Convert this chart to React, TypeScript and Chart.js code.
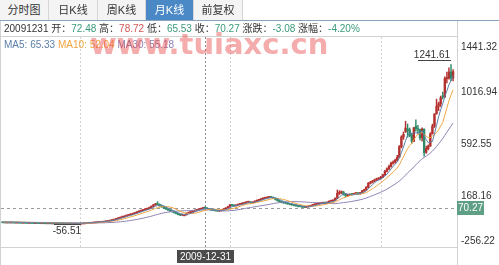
import React, { useEffect, useRef } from "react";
import { Chart, registerables } from "chart.js";
Chart.register(...registerables);

// Monthly K-line, 2001-10 .. 2019-12 (pre-adjusted prices)
const startYear = 2001;
const startMonth = 10;

const opens = [
  -43, -44, -45, -45, -46, -45, -46, -47, -46, -47, -48, -47,
  -48, -49, -48, -49, -50, -49, -50, -51, -50, -51, -52, -51,
  -52, -52, -53, -52, -53, -54, -53, -54, -55, -54, -55, -55,
  -54, -55, -55, -54, -52, -51, -49, -48, -47, -45, -44, -42,
  -41, -40, -38, -35, -33, -29, -25, -21, -16, -10, -5, 0,
  5, 10, 15, 20, 25, 31, 38, 44, 50, 55, 60, 66,
  74, 84, 95, 106, 100, 88, 80, 70, 62, 54, 46, 40,
  32, 24, 16, 12, 14, 14, 28, 33, 38, 44, 50.75, 56,
  61, 66, 72.48, 70, 62, 57, 53, 50, 47, 45, 48, 55,
  63, 70, 80, 96, 92, 88, 94, 100, 104, 108, 114, 118,
  120, 112, 118, 126, 132, 138, 144, 150, 152, 156, 162, 156,
  150, 140, 130, 122, 116, 112, 108, 104, 100, 96, 92, 88,
  84, 82, 78, 76, 80, 84, 90, 96, 100, 104, 108, 110,
  112, 110, 118, 126, 128, 132, 150, 190, 196, 200, 182, 170,
  174, 182, 180, 188, 192, 186, 196, 210, 218, 240, 272, 280,
  290, 300, 308, 312, 322, 340, 370, 390, 410, 436, 445, 460,
  485, 570, 650, 692, 716, 708, 664, 614, 738, 715, 710, 643,
  715, 525, 555, 575, 675, 737, 840, 901, 921, 985, 977, 1127,
  1130, 1180, 1131,
];

const highs = [
  -42, -43, -44, -44, -44, -44, -45, -45, -45, -46, -46, -46,
  -47, -47, -47, -48, -48, -48, -49, -49, -49, -50, -50, -50,
  -51, -51, -51, -51, -52, -52, -52, -53, -53, -53, -54, -53,
  -53, -54, -53, -51, -50, -48, -47, -46, -44, -43, -41, -40,
  -39, -37, -34, -32, -28, -24, -20, -15, -8, -3, 2, 7,
  12, 17, 22, 27, 33, 40, 47, 53, 58, 63, 69, 77,
  88, 100, 108, 122, 104, 94, 84, 74, 66, 58, 50, 43,
  34, 27, 18, 16, 17, 30, 36, 41, 47, 54, 59, 64,
  68, 75, 78.72, 74, 65, 60, 56, 53, 50, 50, 57, 65,
  72, 83, 101, 99, 94, 96, 102, 107, 111, 117, 121, 124,
  122, 120, 129, 135, 141, 147, 153, 156, 159, 166, 165, 159,
  153, 143, 133, 125, 119, 115, 111, 107, 103, 99, 95, 91,
  87, 85, 81, 83, 87, 93, 99, 103, 107, 111, 113, 115,
  115, 121, 129, 131, 136, 154, 217, 212, 210, 206, 190, 180,
  186, 188, 191, 196, 196, 199, 214, 224, 246, 278, 288, 296,
  306, 314, 318, 328, 346, 378, 398, 420, 446, 456, 470, 500,
  580, 660, 690, 778, 756, 723, 682, 729, 790, 745, 715, 725,
  715, 575, 585, 685, 755, 839, 959, 935, 984, 1016, 1140, 1180,
  1215, 1241.61, 1200,
];

const lows = [
  -45, -46, -46, -47, -47, -47, -48, -48, -48, -49, -49, -49,
  -50, -50, -50, -51, -51, -51, -52, -52, -52, -53, -53, -53,
  -53, -54, -54, -54, -55, -55, -55, -56, -56, -56, -56, -56,
  -56, -56, -56.51, -55, -53, -52, -50, -49, -48, -46, -45, -43,
  -42, -41, -39, -36, -34, -30, -26, -22, -17, -11, -6, -1,
  3, 8, 13, 18, 23, 29, 36, 42, 48, 52, 57, 63,
  71, 80, 92, 96, 84, 76, 66, 58, 50, 42, 36, 28,
  21, 13, 8, 10, 11, 13, 26, 31, 36, 42, 49, 54,
  59, 64, 65.53, 60, 55, 51, 48, 45, 42, 43, 46, 53,
  61, 68, 78, 88, 85, 86, 92, 98, 101, 106, 111, 115,
  108, 110, 115, 123, 130, 136, 141, 146, 149, 153, 153, 147,
  136, 126, 118, 112, 108, 104, 100, 96, 92, 88, 84, 80,
  79, 75, 72, 73, 78, 82, 88, 94, 98, 102, 105, 107,
  106, 107, 115, 123, 125, 130, 148, 180, 186, 175, 160, 164,
  170, 176, 178, 184, 180, 184, 194, 206, 214, 236, 266, 274,
  284, 294, 300, 306, 318, 336, 364, 384, 404, 428, 436, 452,
  480, 560, 630, 687, 648, 651, 597, 612, 697, 674, 625, 615,
  494, 515, 545, 575, 675, 727, 835, 865, 899, 960, 970, 1092,
  1121, 1110, 1107,
];

const closes = [
  -44, -45, -45, -46, -45, -46, -47, -46, -47, -48, -47, -48,
  -49, -48, -49, -50, -49, -50, -51, -50, -51, -52, -51, -52,
  -52, -53, -52, -53, -54, -53, -54, -55, -54, -55, -55, -54,
  -55, -55, -54, -52, -51, -49, -48, -47, -45, -44, -42, -41,
  -40, -38, -35, -33, -29, -25, -21, -16, -10, -5, 0, 5,
  10, 15, 20, 25, 31, 38, 44, 50, 55, 60, 66, 74,
  84, 95, 104, 100, 88, 80, 70, 62, 54, 46, 40, 32,
  24, 16, 12, 14, 14, 28, 33, 38, 44, 50.75, 56, 61,
  66.03, 73.35, 70.27, 62, 57, 53, 50, 47, 45, 48, 55, 63,
  70, 80, 96, 92, 88, 94, 100, 104, 108, 114, 118, 120,
  112, 118, 126, 132, 138, 144, 150, 152, 156, 162, 156, 150,
  140, 130, 122, 116, 112, 108, 104, 100, 96, 92, 88, 84,
  82, 78, 76, 80, 84, 90, 96, 100, 104, 108, 110, 112,
  110, 118, 126, 128, 132, 150, 190, 196, 200, 182, 170, 174,
  182, 180, 188, 192, 186, 196, 210, 218, 240, 272, 280, 290,
  300, 308, 312, 322, 340, 370, 390, 410, 436, 445, 460, 485,
  570, 650, 671, 722, 701, 658, 614, 725, 718, 709, 643, 715,
  522, 556, 575, 674, 737, 838, 901, 921, 970, 977, 1127, 1130,
  1180, 1131, 1183,
];

const yTicks = [1441.32, 1016.94, 592.55, 168.16, -256.22];
const tabLabels = ["分时图", "日K线", "周K线", "月K线", "前复权"];
const tabWidths = [49, 49, 48, 48, 49];
const activeTab = 3;
const crossIndex = 98;
const crossDateLabel = "2009-12-31";
const crossDateCode = "20091231";
const maPeriods = [5, 10, 30];
const maColors = ["#5b7fa8", "#f0a540", "#8d80b2"];
const upColor = "#b3302e";
const downColor = "#2e8a68";
const gridXs = [80, 230, 381];
const watermark = "www.tuiaxc.cn";

const FONT = "'Liberation Sans', Arial, 'Noto Sans CJK SC', sans-serif";
const RED = "#d05656";
const GREEN = "#3a9a78";

function movingAverage(values: number[], n: number): number[] {
  return values.map((_, i) => {
    const s = Math.max(0, i - n + 1);
    let sum = 0;
    for (let k = s; k <= i; k++) sum += values[k];
    return sum / (i - s + 1);
  });
}

const maSeries = maPeriods.map((p) => movingAverage(closes, p));

function monthLabel(i: number) {
  const m0 = startMonth - 1 + i;
  const y = startYear + Math.floor(m0 / 12);
  const m = (m0 % 12) + 1;
  return `${y}-${m < 10 ? "0" + m : m}`;
}

const overlayPlugin = {
  id: "overlay",
  beforeDatasetsDraw(chart: any) {
    const { ctx } = chart;
    const xs = chart.scales.x;
    const ys = chart.scales.y;
    ctx.save();
    ctx.lineWidth = 1;
    ctx.strokeStyle = "#d4d4d4";
    ctx.setLineDash([2, 2]);
    for (const gx of gridXs) {
      ctx.beginPath();
      ctx.moveTo(gx + 0.5, 37);
      ctx.lineTo(gx + 0.5, 247);
      ctx.stroke();
    }
    const cx = Math.round(xs.getPixelForValue(crossIndex)) + 0.5;
    ctx.strokeStyle = "#8c8c8c";
    ctx.beginPath();
    ctx.moveTo(cx, 37);
    ctx.lineTo(cx, 250);
    ctx.stroke();
    const cy = Math.round(ys.getPixelForValue(closes[crossIndex])) + 0.5;
    ctx.setLineDash([3, 3]);
    ctx.strokeStyle = "#9a9a9a";
    ctx.beginPath();
    ctx.moveTo(1, cy);
    ctx.lineTo(457, cy);
    ctx.stroke();
    ctx.restore();
  },
  afterDraw(chart: any) {
    const { ctx } = chart;
    const xs = chart.scales.x;
    const ys = chart.scales.y;
    ctx.save();
    ctx.setLineDash([]);
    ctx.lineWidth = 1;
    // frame
    ctx.strokeStyle = "#d2d2d2";
    const seg = (x1: number, y1: number, x2: number, y2: number) => {
      ctx.beginPath();
      ctx.moveTo(x1, y1);
      ctx.lineTo(x2, y2);
      ctx.stroke();
    };
    seg(0, 36.5, 457, 36.5);
    seg(0, 247.5, 457, 247.5);
    seg(457.5, 21, 457.5, 265);
    seg(0.5, 21, 0.5, 265);
    ctx.strokeStyle = "#8aa3bf";
    seg(0, 20.5, 499, 20.5);

    // y labels
    ctx.font = `10px ${FONT}`;
    ctx.fillStyle = "#333";
    ctx.textAlign = "left";
    yTicks.forEach((v, k) => {
      const p = ys.getPixelForValue(v);
      if (k === 0) {
        ctx.textBaseline = "top";
        ctx.fillText(v.toFixed(2), 461, p + 2);
      } else if (k === yTicks.length - 1) {
        ctx.textBaseline = "bottom";
        ctx.fillText(v.toFixed(2), 461, p - 2);
      } else {
        ctx.textBaseline = "middle";
        ctx.fillText(v.toFixed(2), 461, p);
      }
    });

    // current price box
    const cy = Math.round(ys.getPixelForValue(closes[crossIndex]));
    ctx.fillStyle = "#5f9f85";
    ctx.fillRect(457, cy - 7, 27, 14);
    ctx.fillStyle = "#fff";
    ctx.textAlign = "center";
    ctx.textBaseline = "middle";
    ctx.fillText(closes[crossIndex].toFixed(2), 470.5, cy + 0.5);

    // date box
    const cx = Math.round(xs.getPixelForValue(crossIndex));
    ctx.fillStyle = "#4b4b4b";
    ctx.fillRect(cx - 28, 250, 57, 13);
    ctx.fillStyle = "#fff";
    ctx.fillText(crossDateLabel, cx + 0.5, 256.8);

    // max / min annotations
    let iMax = 0;
    let iMin = 0;
    highs.forEach((h, i) => {
      if (h > highs[iMax]) iMax = i;
    });
    lows.forEach((l, i) => {
      if (l < lows[iMin]) iMin = i;
    });
    ctx.strokeStyle = "#444";
    ctx.fillStyle = "#333";
    const mx = Math.round(xs.getPixelForValue(iMax));
    const my = Math.round(ys.getPixelForValue(highs[iMax])) - 4;
    seg(mx - 33, my + 0.5, mx, my + 0.5);
    ctx.textAlign = "right";
    ctx.textBaseline = "alphabetic";
    ctx.fillText(highs[iMax].toFixed(2), mx - 1, my - 2);

    const nx = Math.round(xs.getPixelForValue(iMin));
    const ny = Math.round(ys.getPixelForValue(lows[iMin]));
    seg(nx - 27, ny + 0.5, nx, ny + 0.5);
    ctx.textBaseline = "top";
    ctx.fillText(lows[iMin].toFixed(2), nx, ny + 2);
    ctx.restore();
  },
};

export default function App() {
  const ref = useRef<HTMLCanvasElement>(null);

  useEffect(() => {
    if (!ref.current) return;
    const idx = closes.map((_, i) => i);
    const colors = idx.map((i) => (closes[i] >= opens[i] ? upColor : downColor));
    const chart = new Chart(ref.current, {
      type: "bar",
      data: {
        labels: idx.map(monthLabel),
        datasets: [
          ...maSeries.map((s, k) => ({
            type: "line" as const,
            label: `MA${maPeriods[k]}`,
            data: idx.map((i) => ({ x: i, y: s[i] })),
            borderColor: maColors[k],
            borderWidth: 1,
            pointRadius: 0,
            tension: 0,
            order: k + 1,
          })),
          {
            type: "bar" as const,
            label: "body",
            data: idx.map((i) => ({ x: i, y: [opens[i], closes[i]] })),
            backgroundColor: colors,
            barThickness: 1.7,
            minBarLength: 1,
            grouped: false,
            order: 8,
          },
          {
            type: "bar" as const,
            label: "wick",
            data: idx.map((i) => ({ x: i, y: [lows[i], highs[i]] })),
            backgroundColor: colors,
            barThickness: 0.8,
            grouped: false,
            order: 9,
          },
        ] as any,
      },
      options: {
        responsive: false,
        animation: false,
        events: [],
        layout: { padding: { left: 1, right: 42, top: 40, bottom: 17 } },
        scales: {
          x: { type: "linear", min: -0.73, max: 219.9, offset: false, display: false },
          y: { type: "linear", min: yTicks[yTicks.length - 1], max: yTicks[0], display: false },
        },
        plugins: { legend: { display: false }, tooltip: { enabled: false } },
      } as any,
      plugins: [overlayPlugin],
    });
    return () => chart.destroy();
  }, []);

  const o = opens[crossIndex];
  const h = highs[crossIndex];
  const l = lows[crossIndex];
  const c = closes[crossIndex];
  const prev = closes[crossIndex - 1];
  const chg = c - prev;
  const pct = (chg / prev) * 100;
  const col = (v: number) => (v > prev ? RED : v < prev ? GREEN : "#333");
  const chgCol = chg >= 0 ? RED : GREEN;

  const infoItems: [string, string, string][] = [
    ["开", o.toFixed(2), col(o)],
    ["高", h.toFixed(2), col(h)],
    ["低", l.toFixed(2), col(l)],
    ["收", c.toFixed(2), col(c)],
    ["涨跌", chg.toFixed(2), chgCol],
    ["涨幅", pct.toFixed(2) + "%", chgCol],
  ];

  let tabLeft = 0;
  const tabs = tabLabels.map((t, k) => {
    const left = tabLeft;
    tabLeft += tabWidths[k];
    const active = k === activeTab;
    return (
      <div
        key={t}
        style={{
          position: "absolute",
          left,
          top: 0,
          width: tabWidths[k] - 1,
          height: 20,
          lineHeight: "20px",
          textAlign: "center",
          fontSize: 11,
          background: active ? "#4a88c6" : "#f4f4f4",
          color: active ? "#fff" : "#333",
          borderRight: "1px solid #d6d6d6",
        }}
      >
        {t}
      </div>
    );
  });

  return (
    <div
      style={{
        position: "fixed",
        left: 0,
        top: 0,
        width: 499,
        height: 265,
        background: "#fff",
        overflow: "hidden",
        fontFamily: FONT,
      }}
    >
      <canvas
        ref={ref}
        width={499}
        height={265}
        style={{ position: "absolute", left: 0, top: 0, width: 499, height: 265 }}
      />
      {tabs}
      <div
        style={{
          position: "absolute",
          left: 4,
          top: 22,
          height: 14,
          lineHeight: "14px",
          fontSize: 10,
          color: "#333",
          whiteSpace: "nowrap",
        }}
      >
        {crossDateCode}{" "}
        {infoItems.map(([k, v, cc], n) => (
          <span key={k}>
            {k}：<span style={{ color: cc }}>{v}</span>
            {n < infoItems.length - 1 ? " " : ""}
          </span>
        ))}
      </div>
      <div
        style={{
          position: "absolute",
          left: 4,
          top: 38,
          height: 14,
          lineHeight: "14px",
          fontSize: 10,
          whiteSpace: "nowrap",
        }}
      >
        {maPeriods.map((p, k) => (
          <span key={p} style={{ color: maColors[k] }}>
            MA{p}: {maSeries[k][crossIndex].toFixed(2)}
            {k < maPeriods.length - 1 ? " " : ""}
          </span>
        ))}
      </div>
      <div
        style={{
          position: "absolute",
          left: 90,
          top: 30,
          fontSize: 29,
          lineHeight: "29px",
          fontWeight: "bold",
          fontFamily: "'DejaVu Sans', sans-serif",
          color: "rgba(232, 70, 70, 0.45)",
          whiteSpace: "nowrap",
          pointerEvents: "none",
        }}
      >
        {watermark}
      </div>
    </div>
  );
}
